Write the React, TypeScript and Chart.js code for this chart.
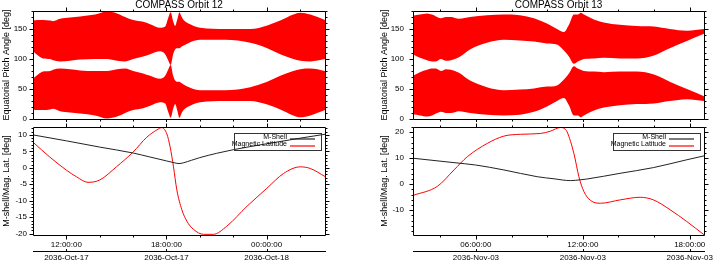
import React, { useEffect, useRef } from "react";
import { Chart, registerables } from "chart.js";

Chart.register(...registerables);

const FONT = "'Liberation Sans', Arial, Helvetica, sans-serif";

// ---------------- shared ----------------
const pitchRange = [0, 180];
const pitchTicks = [0, 50, 100, 150];
const pitchTitle = "Equatorial Pitch Angle [deg]";
const latTitle = "M-shell/Mag. Lat. [deg]";
const mShellLabel = "M-Shell";
const magLatLabel = "Magnetic Latitude";
const mShellColor = "#222222";
const magLatColor = "#ff0000";

// ---------------- Orbit 12 (hours from 2036-Oct-17 00:00) ----------------
const orbit12Title = "COMPASS Orbit 12";
const orbit12Range = [10, 27.5];
const orbit12TimeTicks = [12, 18, 24];
const orbit12TimeLabels = ["12:00:00", "18:00:00", "00:00:00"];
const orbit12DateLabels = ["2036-Oct-17", "2036-Oct-17", "2036-Oct-18"];

const orbit12PitchHours = [10.0, 10.3, 10.6, 11.02, 11.2, 11.62, 12.22, 12.82, 13.72, 14.44, 15.04, 15.52, 16.0, 16.6, 17.02, 17.62, 17.92, 18.1, 18.25, 18.4, 18.52, 18.64, 18.78, 18.88, 19.0, 19.42, 20.02, 21.52, 23.02, 24.04, 24.82, 25.6, 26.02, 26.62, 27.52];
const orbit12UpperMax = [164, 165, 165, 164, 163, 167, 169, 171, 174, 179, 176, 170, 165, 162, 158, 152, 154, 168, 178, 163, 155, 165, 178, 172, 166, 158, 152, 150, 150, 156, 164, 174, 177, 174, 165];
const orbit12UpperMin = [113, 106, 101, 100, 98, 96, 97, 99, 100, 100, 97, 96, 100, 104, 108, 113, 108, 98, 90, 108, 116, 118, 118, 120, 122, 128, 132, 132, 127, 118, 108, 100, 97, 96, 100];
const orbit12LowerMax = [67, 74, 79, 80, 82, 84, 83, 81, 80, 80, 83, 84, 80, 76, 72, 67, 72, 82, 90, 72, 64, 62, 62, 60, 58, 52, 48, 48, 53, 62, 72, 80, 83, 84, 80];
const orbit12LowerMin = [16, 15, 15, 16, 17, 13, 11, 9, 6, 1, 4, 10, 15, 18, 22, 28, 26, 12, 2, 17, 25, 15, 2, 8, 14, 22, 28, 30, 30, 24, 16, 6, 3, 6, 15];

const orbit12MShellHours = [10, 12, 14, 16, 17, 18, 18.5, 18.75, 19.0, 19.5, 20, 21, 22, 24, 26, 27.5];
const orbit12MShell = [10.0, 8.2, 6.3, 4.5, 3.3, 2.1, 1.5, 1.3, 1.5, 2.3, 3.1, 4.4, 5.5, 7.3, 9.0, 10.2];
const orbit12LatHours = [10, 11, 12, 12.6, 13.3, 14, 15, 16, 16.82, 17.42, 17.72, 18.02, 18.22, 18.42, 18.62, 18.92, 19.22, 19.62, 20.22, 20.8, 21.62, 22.82, 24.02, 25.02, 26.02, 26.62, 27.52];
const orbit12MagLat = [7.8, 3.3, -0.7, -2.7, -4.4, -3.7, 0.3, 4.8, 9.3, 11.5, 12.2, 10.3, 6.3, 0.3, -6.7, -12.7, -16.2, -18.7, -20.2, -20.2, -17.7, -11.7, -6.2, -1.7, 0.3, -0.2, -2.7];
const orbit12LatRange = [-20.4, 12.4];
const orbit12LatTicks = [-20, -15, -10, -5, 0, 5, 10];

// ---------------- Orbit 13 (hours from 2036-Nov-03 00:00) ----------------
const orbit13Title = "COMPASS Orbit 13";
const orbit13Range = [2.47, 18.8];
const orbit13TimeTicks = [6, 12, 18];
const orbit13TimeLabels = ["06:00:00", "12:00:00", "18:00:00"];
const orbit13DateLabels = ["2036-Nov-03", "2036-Nov-03", "2036-Nov-03"];

const orbit13PitchHours = [2.47, 2.86, 3.26, 3.54, 3.76, 4.04, 4.32, 4.6, 5.05, 5.67, 6.62, 7.57, 8.47, 9.26, 9.99, 10.55, 10.94, 11.22, 11.5, 11.72, 11.89, 12.06, 12.62, 13.18, 14.08, 15.03, 15.99, 16.88, 17.84, 18.8];
const orbit13UpperMax = [172, 174, 176, 174, 171, 168, 170, 170, 167, 170, 173, 174, 173, 168, 159, 150, 145, 157, 174, 174, 177, 174, 166, 161, 157, 155, 154, 150, 147, 150];
const orbit13UpperMin = [108, 102, 98, 96, 96, 100, 97, 98, 103, 116, 127, 132, 131, 129, 126, 124, 114, 104, 92, 96, 98, 100, 101, 102, 101, 101, 106, 118, 130, 142];
const orbit13LowerMax = [72, 78, 82, 84, 84, 80, 83, 82, 77, 64, 53, 48, 49, 51, 54, 56, 66, 76, 88, 84, 82, 80, 79, 78, 79, 79, 74, 62, 50, 38];
const orbit13LowerMin = [8, 6, 4, 6, 9, 12, 10, 10, 13, 10, 7, 6, 7, 12, 21, 30, 35, 23, 6, 6, 3, 6, 14, 19, 23, 25, 26, 30, 33, 30];

const orbit13MShellHours = [2.47, 4.77, 5.98, 7.57, 9.44, 10.38, 11.3, 11.85, 12.22, 14.09, 15.96, 17.83, 18.8];
const orbit13MShell = [10.0, 8.3, 7.4, 5.5, 2.9, 2.1, 1.4, 1.7, 2.0, 4.2, 6.4, 9.4, 10.9];
const orbit13LatHours = [2.47, 3.84, 4.77, 5.52, 6.64, 7.57, 8.5, 9.62, 10.18, 10.74, 10.95, 11.12, 11.5, 11.78, 12.06, 12.43, 12.99, 14.1, 15.22, 15.96, 16.9, 17.83, 18.8];
const orbit13MagLat = [-4.3, -0.8, 5.5, 10.6, 15.7, 18.5, 19.2, 19.5, 20.4, 21.8, 21.5, 20.1, 11.8, 2.9, -2.8, -6.2, -7.3, -6.0, -5.0, -6.0, -9.8, -14.3, -19.4];
const orbit13LatRange = [-19.5, 22.0];
const orbit13LatTicks = [-10, 0, 10, 20];

const legendEntries = [
  { label: mShellLabel, color: mShellColor },
  { label: magLatLabel, color: magLatColor },
];

// ---------------- plugins ----------------
const framePlugin = {
  id: "frame",
  afterDraw(chart: any, _args: any, opts: any) {
    const { ctx, chartArea: a, scales } = chart;
    const xs = scales.x;
    const ys = scales.y;
    const L = Math.round(a.left) + 0.5;
    const R = Math.round(a.right) + 0.5;
    const T = Math.round(a.top) + 0.5;
    const B = Math.round(a.bottom) + 0.5;
    ctx.save();
    ctx.strokeStyle = "#000";
    ctx.lineWidth = 1;
    ctx.beginPath();
    ctx.rect(L, T, R - L, B - T);
    const seg = (x1: number, y1: number, x2: number, y2: number) => {
      ctx.moveTo(x1, y1);
      ctx.lineTo(x2, y2);
    };
    const yMajor: number[] = opts.yMajor;
    const xMajor: number[] = opts.xMajor;
    const yStep: number = opts.yMinor;
    const xStep: number = opts.xMinor;
    for (let k = Math.ceil(ys.min / yStep - 1e-9); k * yStep <= ys.max + 1e-9; k++) {
      const v = k * yStep;
      const major = yMajor.some((m) => Math.abs(m - v) < 1e-6);
      const y = Math.round(ys.getPixelForValue(v)) + 0.5;
      const len = major ? 4 : 2;
      seg(L, y, L - len, y);
      seg(R, y, R + len, y);
    }
    for (let k = Math.ceil(xs.min / xStep - 1e-9); k * xStep <= xs.max + 1e-9; k++) {
      const v = k * xStep;
      if (v <= xs.min + 1e-6 || v >= xs.max - 1e-6) continue;
      const major = xMajor.some((m) => Math.abs(m - v) < 1e-6);
      const x = Math.round(xs.getPixelForValue(v)) + 0.5;
      const len = major ? 4 : 2;
      seg(x, T, x, T - len);
      seg(x, B, x, B + len);
    }
    if (opts.dateAxis && scales[opts.dateAxis]) {
      const ds = scales[opts.dateAxis];
      const y = Math.round(ds.top) + 0.5;
      for (const t of ds.ticks) {
        const x = Math.round(ds.getPixelForValue(t.value)) + 0.5;
        seg(x, y, x, y - 2.5);
      }
    }
    ctx.stroke();
    ctx.restore();
  },
};

const boxLegendPlugin = {
  id: "boxLegend",
  afterDatasetsDraw(chart: any) {
    const { ctx, chartArea: a } = chart;
    const w = 87;
    const h = 17;
    const left = Math.round(a.right) - 4 - w;
    const top = Math.round(a.top) + 6;
    ctx.save();
    ctx.lineWidth = 1;
    ctx.strokeStyle = "#333333";
    ctx.strokeRect(left + 0.5, top + 0.5, w, h);
    ctx.font = `7px ${FONT}`;
    ctx.textAlign = "right";
    ctx.textBaseline = "middle";
    legendEntries.forEach((entry, i) => {
      const y = top + 5 + i * 7;
      ctx.fillStyle = "#000000";
      ctx.fillText(entry.label, left + 53, y - 0.5);
    });
    legendEntries.forEach((entry, i) => {
      const y = top + 5 + i * 7;
      ctx.beginPath();
      ctx.strokeStyle = entry.color;
      ctx.lineWidth = 1.2;
      ctx.moveTo(left + 56, y + 1);
      ctx.lineTo(left + 81, y + 1);
      ctx.stroke();
    });
    ctx.restore();
  },
};

const pts = (xs: number[], ys: number[]) => xs.map((x, i) => ({ x, y: ys[i] }));

function yAxis(range: number[], ticks: number[], title: string, width: number, pad: number) {
  return {
    type: "linear",
    position: "left",
    min: range[0],
    max: range[1],
    afterBuildTicks: (s: any) => {
      s.ticks = ticks.map((v) => ({ value: v }));
    },
    afterFit: (s: any) => {
      s.width = width;
      s.paddingTop = 0;
      s.paddingBottom = 0;
    },
    grid: { display: false, drawTicks: false },
    border: { display: false },
    ticks: { font: { size: 8, family: FONT }, color: "#000", padding: pad, autoSkip: false },
    title: {
      display: true,
      text: title,
      font: { size: 9, family: FONT },
      color: "#000",
      padding: { top: 1, bottom: 0 },
    },
  };
}

type PitchSpec = {
  hours: number[];
  upperMin: number[];
  upperMax: number[];
  lowerMin: number[];
  lowerMax: number[];
  title: string;
  range: number[];
  timeTicks: number[];
  axisWidth: number;
  tickPad: number;
  padRight: number;
};

function pitchConfig(p: PitchSpec): any {
  const band = { borderWidth: 0, pointRadius: 0, cubicInterpolationMode: "monotone", backgroundColor: "#ff0000" };
  return {
    type: "line",
    data: {
      datasets: [
        { ...band, data: pts(p.hours, p.upperMin), fill: false },
        { ...band, data: pts(p.hours, p.upperMax), fill: "-1" },
        { ...band, data: pts(p.hours, p.lowerMin), fill: false },
        { ...band, data: pts(p.hours, p.lowerMax), fill: "-1" },
      ],
    },
    options: {
      responsive: false,
      animation: false,
      devicePixelRatio: 1,
      events: [],
      layout: { padding: { left: 0, right: p.padRight, top: 0, bottom: 3 } },
      plugins: {
        legend: { display: false },
        tooltip: { enabled: false },
        title: {
          display: true,
          text: p.title,
          fullSize: false,
          color: "#000",
          font: { size: 10, family: FONT, weight: "normal", lineHeight: 1.1 },
          padding: 0,
        },
        frame: { xMajor: p.timeTicks, xMinor: 2, yMajor: pitchTicks, yMinor: 10 },
      },
      scales: {
        x: { type: "linear", min: p.range[0], max: p.range[1], display: false },
        y: yAxis(pitchRange, pitchTicks, pitchTitle, p.axisWidth, p.tickPad),
      },
    },
    plugins: [framePlugin],
  };
}

type LatSpec = {
  mHours: number[];
  mShell: number[];
  lHours: number[];
  lat: number[];
  range: number[];
  timeTicks: number[];
  timeLabels: string[];
  dateLabels: string[];
  latRange: number[];
  latTicks: number[];
  latMinor: number;
  axisWidth: number;
  tickPad: number;
  padRight: number;
};

function latConfig(p: LatSpec): any {
  const tickFont = { size: 8, family: FONT };
  return {
    type: "line",
    data: {
      datasets: [
        {
          label: mShellLabel,
          data: pts(p.mHours, p.mShell),
          borderColor: mShellColor,
          borderWidth: 1,
          pointRadius: 0,
          cubicInterpolationMode: "monotone",
          fill: false,
        },
        {
          label: magLatLabel,
          data: pts(p.lHours, p.lat),
          borderColor: magLatColor,
          borderWidth: 1,
          pointRadius: 0,
          cubicInterpolationMode: "monotone",
          fill: false,
        },
      ],
    },
    options: {
      responsive: false,
      animation: false,
      devicePixelRatio: 1,
      events: [],
      layout: { padding: { left: 0, right: p.padRight, top: 5, bottom: 0 } },
      plugins: {
        legend: { display: false },
        tooltip: { enabled: false },
        frame: { xMajor: p.timeTicks, xMinor: 2, yMajor: p.latTicks, yMinor: p.latMinor, dateAxis: "xDate" },
      },
      scales: {
        x: {
          type: "linear",
          position: "bottom",
          weight: 0,
          min: p.range[0],
          max: p.range[1],
          afterBuildTicks: (s: any) => {
            s.ticks = p.timeTicks.map((v) => ({ value: v }));
          },
          afterFit: (s: any) => {
            s.height = 16;
            s.paddingLeft = 0;
            s.paddingRight = 0;
          },
          grid: { display: false, drawTicks: false },
          border: { display: false },
          ticks: {
            font: tickFont,
            color: "#000",
            padding: 5,
            maxRotation: 0,
            autoSkip: false,
            callback: (v: number) => p.timeLabels[p.timeTicks.indexOf(v)],
          },
        },
        xDate: {
          type: "linear",
          position: "bottom",
          weight: 1,
          min: p.range[0],
          max: p.range[1],
          afterBuildTicks: (s: any) => {
            s.ticks = p.timeTicks.map((v) => ({ value: v }));
          },
          afterFit: (s: any) => {
            s.height = 12;
            s.paddingLeft = 0;
            s.paddingRight = 0;
          },
          grid: { display: false, drawTicks: false },
          border: { display: true, color: "#000", width: 1 },
          ticks: {
            font: tickFont,
            color: "#000",
            padding: 2,
            maxRotation: 0,
            autoSkip: false,
            callback: (v: number) => p.dateLabels[p.timeTicks.indexOf(v)],
          },
        },
        y: yAxis(p.latRange, p.latTicks, latTitle, p.axisWidth, p.tickPad),
      },
    },
    plugins: [framePlugin, boxLegendPlugin],
  };
}

function ChartCanvas(props: { left: number; top: number; width: number; height: number; make: () => any }) {
  const ref = useRef<HTMLCanvasElement>(null);
  useEffect(() => {
    const chart = new Chart(ref.current as HTMLCanvasElement, props.make());
    return () => chart.destroy();
  }, []);
  return (
    <canvas
      ref={ref}
      width={props.width}
      height={props.height}
      style={{ position: "absolute", left: props.left, top: props.top, width: props.width, height: props.height }}
    />
  );
}

export default function App() {
  Chart.defaults.font.family = FONT;
  return (
    <div style={{ position: "absolute", left: 0, top: 0, width: 714, height: 263, background: "#fff", overflow: "hidden" }}>
      <ChartCanvas
        left={0}
        top={0}
        width={357}
        height={122}
        make={() =>
          pitchConfig({
            hours: orbit12PitchHours,
            upperMin: orbit12UpperMin,
            upperMax: orbit12UpperMax,
            lowerMin: orbit12LowerMin,
            lowerMax: orbit12LowerMax,
            title: orbit12Title,
            range: orbit12Range,
            timeTicks: orbit12TimeTicks,
            axisWidth: 33,
            tickPad: 6,
            padRight: 32,
          })
        }
      />
      <ChartCanvas
        left={0}
        top={122}
        width={357}
        height={141}
        make={() =>
          latConfig({
            mHours: orbit12MShellHours,
            mShell: orbit12MShell,
            lHours: orbit12LatHours,
            lat: orbit12MagLat,
            range: orbit12Range,
            timeTicks: orbit12TimeTicks,
            timeLabels: orbit12TimeLabels,
            dateLabels: orbit12DateLabels,
            latRange: orbit12LatRange,
            latTicks: orbit12LatTicks,
            latMinor: 1,
            axisWidth: 33,
            tickPad: 6,
            padRight: 32,
          })
        }
      />
      <ChartCanvas
        left={378}
        top={0}
        width={336}
        height={122}
        make={() =>
          pitchConfig({
            hours: orbit13PitchHours,
            upperMin: orbit13UpperMin,
            upperMax: orbit13UpperMax,
            lowerMin: orbit13LowerMin,
            lowerMax: orbit13LowerMax,
            title: orbit13Title,
            range: orbit13Range,
            timeTicks: orbit13TimeTicks,
            axisWidth: 35,
            tickPad: 9,
            padRight: 10,
          })
        }
      />
      <ChartCanvas
        left={378}
        top={122}
        width={336}
        height={141}
        make={() =>
          latConfig({
            mHours: orbit13MShellHours,
            mShell: orbit13MShell,
            lHours: orbit13LatHours,
            lat: orbit13MagLat,
            range: orbit13Range,
            timeTicks: orbit13TimeTicks,
            timeLabels: orbit13TimeLabels,
            dateLabels: orbit13DateLabels,
            latRange: orbit13LatRange,
            latTicks: orbit13LatTicks,
            latMinor: 2,
            axisWidth: 35,
            tickPad: 9,
            padRight: 10,
          })
        }
      />
    </div>
  );
}
